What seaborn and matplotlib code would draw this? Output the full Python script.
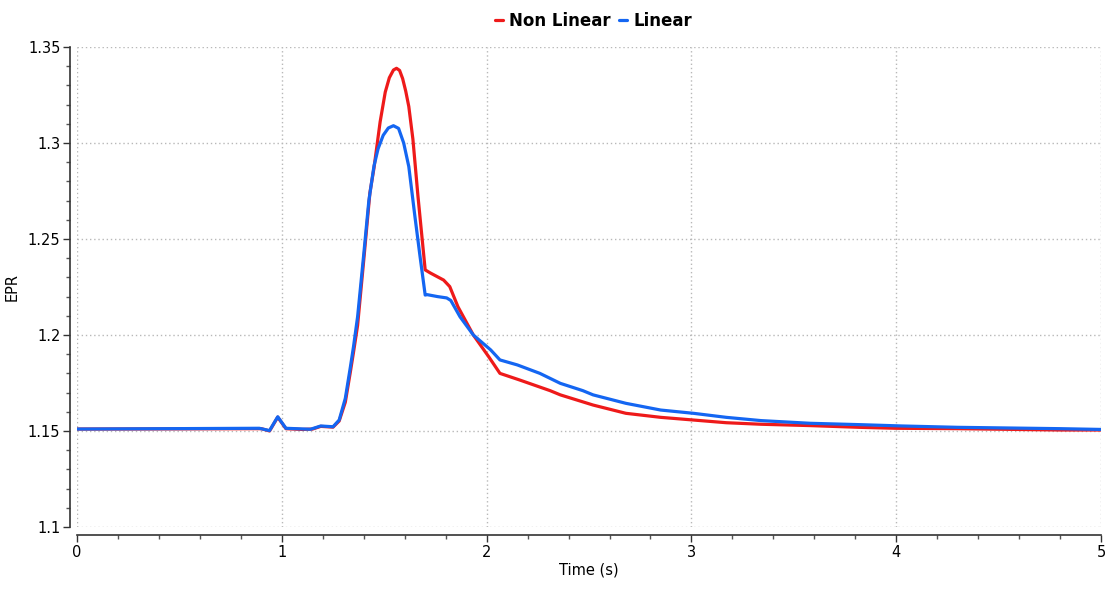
import matplotlib
matplotlib.use("Agg")
import matplotlib.pyplot as plt
from matplotlib.ticker import MultipleLocator, FuncFormatter
import seaborn as sns
import pandas as pd

# EPR response over time, nonlinear vs linear model
time_nonlinear = [0, 0.90, 0.94, 0.98, 1.02, 1.10, 1.15, 1.19, 1.25, 1.28, 1.31,
                  1.335, 1.35, 1.37, 1.40, 1.43, 1.45, 1.48, 1.505, 1.525, 1.545,
                  1.56, 1.575, 1.59, 1.605, 1.62, 1.64, 1.665, 1.70, 1.725, 1.79,
                  1.82, 1.86, 1.935, 2.01, 2.065, 2.16, 2.31, 2.36, 2.52, 2.68,
                  2.85, 3.01, 3.17, 3.34, 3.58, 3.82, 4.0, 4.3, 4.8, 5.0]
epr_nonlinear = [1.151, 1.1512, 1.1500, 1.1572, 1.1512, 1.1508, 1.1510, 1.1524,
                 1.1520, 1.1552, 1.1650, 1.1810, 1.1910, 1.2050, 1.2390, 1.2740,
                 1.2870, 1.3110, 1.3265, 1.3340, 1.3380, 1.3389, 1.3378, 1.3335,
                 1.3270, 1.3190, 1.3020, 1.2720, 1.2339, 1.2323, 1.2286, 1.2252,
                 1.2147, 1.2000, 1.1887, 1.1800, 1.1766, 1.1710, 1.1688, 1.1635,
                 1.1592, 1.1571, 1.1557, 1.1543, 1.1535, 1.1528, 1.1519, 1.1514,
                 1.1512, 1.1505, 1.1505]

time_linear = [0, 0.89, 0.94, 0.98, 1.02, 1.14, 1.19, 1.25, 1.28, 1.31, 1.335,
               1.35, 1.37, 1.40, 1.425, 1.45, 1.47, 1.495, 1.52, 1.545, 1.57,
               1.595, 1.62, 1.65, 1.675, 1.70, 1.71, 1.76, 1.805, 1.825, 1.87,
               1.935, 2.02, 2.065, 2.15, 2.26, 2.36, 2.47, 2.52, 2.68, 2.85,
               3.01, 3.17, 3.34, 3.58, 3.82, 4.03, 4.3, 4.8, 5.0]
epr_linear = [1.151, 1.1514, 1.1502, 1.1574, 1.1514, 1.1509, 1.1526, 1.1522,
              1.1557, 1.1670, 1.1835, 1.1939, 1.2095, 1.2420, 1.2700, 1.2880,
              1.2970, 1.3040, 1.3078, 1.3090, 1.3076, 1.3000, 1.2877, 1.2616,
              1.2408, 1.2208, 1.2210, 1.2200, 1.2193, 1.2180, 1.2095, 1.2000,
              1.1922, 1.1870, 1.1844, 1.1800, 1.1748, 1.1710, 1.1688, 1.1644,
              1.1609, 1.1592, 1.1571, 1.1554, 1.1540, 1.1533, 1.1526, 1.1519,
              1.1512, 1.1508]

series_names = ["Non Linear", "Linear"]
series_colors = ["#ee1a1a", "#1466f2"]

sns.set_theme(style="ticks")
plt.rcParams["font.family"] = ["DejaVu Sans"]
plt.rcParams["text.color"] = "black"

fig = plt.figure(figsize=(11.1, 5.97), dpi=100)
ax = fig.add_axes([0.0694, 0.1173, 0.9225, 0.804])

df_nl = pd.DataFrame({"t": time_nonlinear, "epr": epr_nonlinear})
df_l = pd.DataFrame({"t": time_linear, "epr": epr_linear})

sns.lineplot(data=df_nl, x="t", y="epr", ax=ax, color=series_colors[0],
             linewidth=2.3, sort=False, estimator=None, label=series_names[0])
sns.lineplot(data=df_l, x="t", y="epr", ax=ax, color=series_colors[1],
             linewidth=2.3, sort=False, estimator=None, label=series_names[1])

ax.set_xlim(0, 5)
ax.set_ylim(1.1, 1.35)
ax.xaxis.set_major_locator(MultipleLocator(1))
ax.xaxis.set_minor_locator(MultipleLocator(0.2))
ax.yaxis.set_major_locator(MultipleLocator(0.05))
ax.yaxis.set_minor_locator(MultipleLocator(0.01))
ax.yaxis.set_major_formatter(FuncFormatter(lambda v, p: f"{v:.2f}".rstrip("0")))
ax.xaxis.set_major_formatter(FuncFormatter(lambda v, p: f"{v:g}"))

ax.grid(True, which="major", color="#b8b8b8", linestyle=(0, (1, 2)), linewidth=1.0)
ax.tick_params(which="major", length=5, width=1, color="#333333",
               labelsize=10.5, labelcolor="black", pad=2)
ax.tick_params(which="minor", length=3, width=1, color="#555555")

sns.despine(ax=ax, offset={"left": 5, "bottom": 6})
for side in ("left", "bottom"):
    ax.spines[side].set_color("#333333")
    ax.spines[side].set_linewidth(1.2)

ax.set_xlabel("Time (s)", fontsize=10.5, labelpad=2, color="black")
ax.set_ylabel("EPR", fontsize=10.5, labelpad=6, color="black")

handles, labels = ax.get_legend_handles_labels()
ax.get_legend().remove()
leg = fig.legend(handles, labels, loc="upper center", bbox_to_anchor=(0.535, 1.005),
                 ncol=2, frameon=False, handlelength=0.45, handletextpad=0.4,
                 columnspacing=0.5, prop={"weight": "bold", "size": 12})
for txt in leg.get_texts():
    txt.set_color("black")

fig.savefig("out.png", dpi=100)
